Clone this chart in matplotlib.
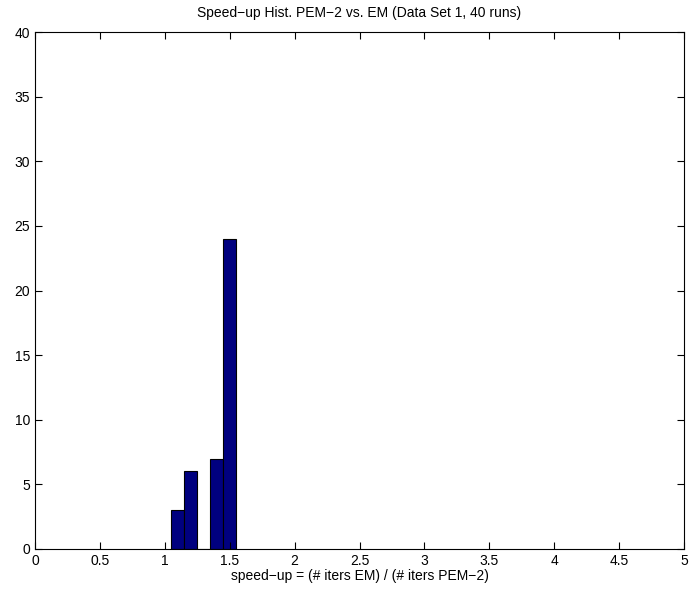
import matplotlib
matplotlib.use("Agg")
import matplotlib.pyplot as plt

plt.rcParams['font.family'] = ['Liberation Sans', 'DejaVu Sans']

bin_centers = [1.1, 1.2, 1.3, 1.4, 1.5]
counts = [3, 6, 0, 7, 24]
xticks = [0, 0.5, 1, 1.5, 2, 2.5, 3, 3.5, 4, 4.5, 5]
xticklabels = ['0', '0.5', '1', '1.5', '2', '2.5', '3', '3.5', '4', '4.5', '5']
yticks = [0, 5, 10, 15, 20, 25, 30, 35, 40]

fig = plt.figure(figsize=(6.95, 5.91), dpi=100)
ax = fig.add_axes([35 / 695, 1 - 549 / 591, 649 / 695, 517 / 591])

ax.bar(bin_centers, counts, width=0.1, color='#00007f', edgecolor='black', linewidth=0.8)

ax.set_xlim(0, 5)
ax.set_ylim(0, 40)
ax.set_xticks(xticks)
ax.set_xticklabels(xticklabels)
ax.set_yticks(yticks)
ax.tick_params(direction='in', top=True, right=True, labelsize=10, length=5)
for s in ax.spines.values():
    s.set_linewidth(0.8)

ax.set_title('Speed\u2212up Hist. PEM\u22122 vs. EM (Data Set 1, 40 runs)', fontsize=10, pad=11)
ax.set_xlabel('speed\u2212up = (# iters EM) / (# iters PEM\u22122)', fontsize=10, labelpad=1)

fig.savefig('out.png', dpi=100)
